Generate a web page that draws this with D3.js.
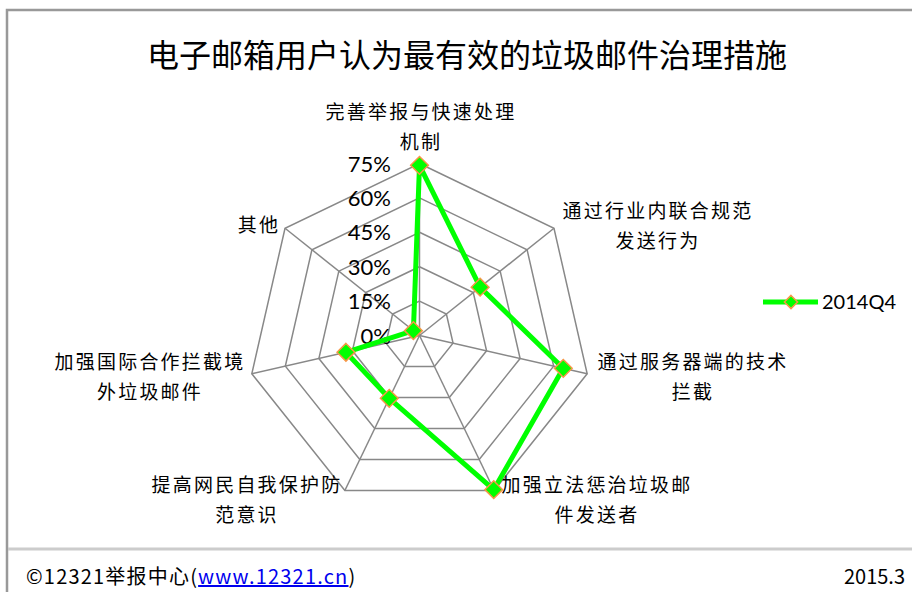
<!DOCTYPE html>
<html>
<head>
<meta charset="utf-8">
<script src="https://cdn.jsdelivr.net/npm/d3@7"></script>
<style>
  body { margin: 0; background: #fff; }
  svg { display: block; }
</style>
</head>
<body>
<svg id="chart"></svg>
<script>
var width = 912, height = 592;

var title = "电子邮箱用户认为最有效的垃圾邮件治理措施";
var categories = [
  ["完善举报与快速处理", "机制"],
  ["通过行业内联合规范", "发送行为"],
  ["通过服务器端的技术", "拦截"],
  ["加强立法惩治垃圾邮", "件发送者"],
  ["提高网民自我保护防", "范意识"],
  ["加强国际合作拦截境", "外垃圾邮件"],
  ["其他"]
];
var seriesName = "2014Q4";
var values = [74.2, 33.8, 64.3, 74.6, 30.4, 32.9, 3.4];
var ticks = [0, 15, 30, 45, 60, 75];

var cx = 419.5, cy = 335.5, R = 172;
var n = categories.length;

var svg = d3.select("#chart").attr("width", width).attr("height", height);

// frame
svg.append("path")
  .attr("d", "M7," + height + "V10H" + width)
  .attr("fill", "none").attr("stroke", "#999").attr("stroke-width", 2.5);
svg.append("line")
  .attr("x1", 8).attr("x2", width).attr("y1", 549).attr("y2", 549)
  .attr("stroke", "#ccc").attr("stroke-width", 3);

svg.append("text")
  .attr("x", 467).attr("y", 67)
  .attr("text-anchor", "middle")
  .attr("font-family", "Noto Sans CJK SC")
  .attr("font-size", 32)
  .attr("fill", "#000")
  .text(title);

var r = d3.scaleLinear().domain([0, 75]).range([0, R]);
var angle = function(i) { return i * 2 * Math.PI / n; };
var pt = function(i, v) {
  return [cx + r(v) * Math.sin(angle(i)), cy - r(v) * Math.cos(angle(i))];
};

var grid = svg.append("g");
// rings
ticks.forEach(function(t) {
  if (t === 0) return;
  var pts = d3.range(n).map(function(i) { return pt(i, t); });
  grid.append("path")
    .attr("d", d3.line()(pts) + "Z")
    .attr("fill", "none").attr("stroke", "#888").attr("stroke-width", 1.5);
});
// spokes
d3.range(n).forEach(function(i) {
  var p = pt(i, 75);
  grid.append("line")
    .attr("x1", cx).attr("y1", cy).attr("x2", p[0]).attr("y2", p[1])
    .attr("stroke", "#888").attr("stroke-width", 1.5);
});

// tick labels
svg.append("g").selectAll("text").data(ticks).enter().append("text")
  .attr("x", 391)
  .attr("y", function(d) { return cy - r(d) + 8; })
  .attr("text-anchor", "end")
  .attr("font-family", "Lato, 'Liberation Sans', sans-serif")
  .attr("font-size", 22)
  .attr("fill", "#000")
  .text(function(d) { return d + "%"; });

// category labels
var labelPos = [
  [420, 119],
  [657, 218],
  [692, 369],
  [596, 492],
  [246, 492],
  [149, 369],
  [258, 232]
];
var labels = svg.append("g").selectAll("text").data(categories).enter().append("text")
  .attr("font-family", "Noto Sans CJK SC")
  .attr("font-size", 19)
  .attr("letter-spacing", 2.2)
  .attr("fill", "#000")
  .attr("text-anchor", "middle");
labels.each(function(d, i) {
  var t = d3.select(this);
  d.forEach(function(line, j) {
    t.append("tspan")
      .attr("x", labelPos[i][0] + 1)
      .attr("y", labelPos[i][1] + j * 30)
      .text(line);
  });
});

// series
var pts = values.map(function(v, i) { return pt(i, v); });
svg.append("path")
  .attr("d", d3.line()(pts) + "Z")
  .attr("fill", "none").attr("stroke", "#00ff00").attr("stroke-width", 5)
  .attr("stroke-linejoin", "round");

var diamond = d3.symbol().type(d3.symbolDiamond2).size(200);
svg.append("g").selectAll("path").data(pts).enter().append("path")
  .attr("transform", function(d) { return "translate(" + d[0] + "," + d[1] + ")"; })
  .attr("d", diamond)
  .attr("fill", "#00ff00").attr("stroke", "#f79646").attr("stroke-width", 1.5);

// legend
var lg = svg.append("g").attr("transform", "translate(763,302)");
lg.append("line").attr("x1", 0).attr("x2", 55).attr("y1", 0).attr("y2", 0)
  .attr("stroke", "#00ff00").attr("stroke-width", 5);
lg.append("path").attr("transform", "translate(28,0)")
  .attr("d", d3.symbol().type(d3.symbolDiamond2).size(110))
  .attr("fill", "#00ff00").attr("stroke", "#f79646").attr("stroke-width", 1.5);
lg.append("text").attr("x", 59).attr("y", 7)
  .attr("font-family", "Lato, 'Liberation Sans', sans-serif")
  .attr("font-size", 20).attr("fill", "#000")
  .text(seriesName);

// footer
var ft = svg.append("text")
  .attr("x", 26).attr("y", 584)
  .attr("font-family", "'Noto Sans CJK SC'")
  .attr("font-size", 20)
  .attr("letter-spacing", 1.2)
  .attr("fill", "#000");
ft.append("tspan").text("©12321举报中心(");
ft.append("tspan").attr("fill", "#0000ee").attr("text-decoration", "underline").text("www.12321.cn");
ft.append("tspan").text(")");
svg.append("text")
  .attr("x", 905).attr("y", 584)
  .attr("text-anchor", "end")
  .attr("font-family", "'Noto Sans CJK SC'")
  .attr("font-size", 20)
  .attr("fill", "#000")
  .text("2015.3");
</script>
</body>
</html>
